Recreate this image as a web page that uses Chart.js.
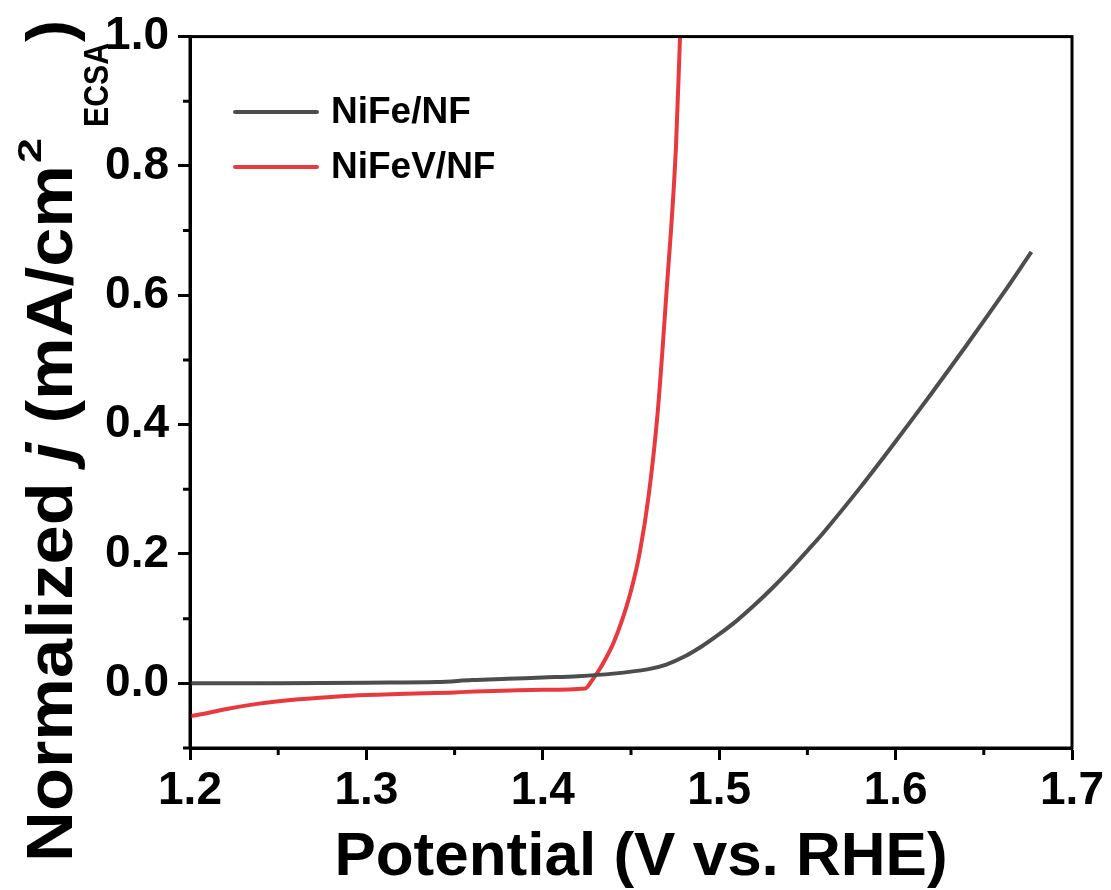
<!DOCTYPE html>
<html>
<head>
<meta charset="utf-8">
<title>Normalized LSV</title>
<script src="https://cdn.jsdelivr.net/npm/chart.js@4.4.1/dist/chart.umd.min.js"></script>
<style>
  html, body { margin: 0; padding: 0; background: #fff; }
  #wrap { width: 1111px; height: 890px; }
</style>
</head>
<body>
<div id="wrap"><canvas id="lsvChart" width="1111" height="890"></canvas></div>
<script>
// LSV curves, potential in V vs. RHE, current normalized by ECSA
const seriesNames = ["NiFe/NF", "NiFeV/NF"];
const seriesColors = ["#4d4d4d", "#e8393e"];

const potentialNiFe = [1.20, 1.25, 1.30, 1.34, 1.36, 1.38, 1.40, 1.42, 1.44, 1.46, 1.47, 1.48, 1.49,
  1.50, 1.51, 1.52, 1.53, 1.54, 1.55, 1.56, 1.58, 1.60, 1.62, 1.64, 1.66, 1.677];
const currentNiFe = [0.000, 0.000, 0.001, 0.002, 0.005, 0.007, 0.009, 0.011, 0.015, 0.022, 0.029, 0.041, 0.057,
  0.076, 0.097, 0.121, 0.147, 0.175, 0.205, 0.236, 0.303, 0.374, 0.447, 0.522, 0.599, 0.667];

const potentialNiFeV = [1.200, 1.210, 1.220, 1.240, 1.260, 1.280, 1.300, 1.350, 1.400, 1.424, 1.428, 1.432,
  1.436, 1.440, 1.445, 1.450, 1.455, 1.460, 1.465, 1.470, 1.4755, 1.4778];
const currentNiFeV = [-0.051, -0.046, -0.040, -0.031, -0.025, -0.021, -0.018, -0.014, -0.010, -0.008, 0.005, 0.021,
  0.040, 0.062, 0.098, 0.143, 0.203, 0.290, 0.415, 0.600, 0.830, 1.000];

const xMajorTicks = [1.2, 1.3, 1.4, 1.5, 1.6, 1.7];
const xMinorTicks = [1.25, 1.35, 1.45, 1.55, 1.65];
const yMajorTicks = [0.0, 0.2, 0.4, 0.6, 0.8, 1.0];
const yMinorTicks = [-0.1, 0.1, 0.3, 0.5, 0.7, 0.9];

const FONT = "'Liberation Sans', Arial, sans-serif";

function toPoints(xs, ys) {
  return xs.map(function (x, i) { return { x: x, y: ys[i] }; });
}

// frame, minor ticks, legend and axis titles
const decorations = {
  id: "decorations",
  afterDraw: function (chart) {
    const ctx = chart.ctx;
    const area = chart.chartArea;
    const xs = chart.scales.x;
    const ys = chart.scales.y;

    ctx.save();
    ctx.strokeStyle = "#000";
    ctx.lineWidth = 3;
    ctx.strokeRect(area.left, area.top, area.right - area.left, area.bottom - area.top);

    // minor ticks
    ctx.beginPath();
    xMinorTicks.forEach(function (v) {
      const px = xs.getPixelForValue(v);
      ctx.moveTo(px, area.bottom);
      ctx.lineTo(px, area.bottom + 7);
    });
    yMinorTicks.forEach(function (v) {
      const py = ys.getPixelForValue(v);
      ctx.moveTo(area.left, py);
      ctx.lineTo(area.left - 7, py);
    });
    ctx.stroke();

    // legend
    ctx.font = "bold 37px " + FONT;
    ctx.textBaseline = "middle";
    ctx.textAlign = "left";
    chart.data.datasets.forEach(function (ds, i) {
      const y = 112 + i * 55;
      ctx.strokeStyle = ds.borderColor;
      ctx.lineWidth = 4;
      ctx.lineCap = "round";
      ctx.beginPath();
      ctx.moveTo(235, y);
      ctx.lineTo(317, y);
      ctx.stroke();
      ctx.fillStyle = "#000";
      ctx.fillText(ds.label, 331, y + 1);
    });

    // x title
    ctx.fillStyle = "#000";
    ctx.textBaseline = "alphabetic";
    ctx.textAlign = "center";
    ctx.font = "bold 62px " + FONT;
    ctx.fillText("Potential (V vs. RHE)", 641, 875);

    // y title: italic j, superscript 2, subscript ECSA
    // each run: start and length along the title, baseline offset
    const runs = [
      { t: ["Normalized ", "j", " (mA/cm"], f: ["bold 64px ", "italic bold 64px ", "bold 64px "], at: 0, len: 697, dy: 0 },
      { t: ["2"], f: ["bold 34px "], at: 699, len: 25, dy: -31 },
      { t: ["ECSA"], f: ["bold 35px "], at: 735, len: 84, dy: 36 },
      { t: [")"], f: ["bold 64px "], at: 820, len: 22, dy: 0 }
    ];
    ctx.translate(72, 862);
    ctx.rotate(-Math.PI / 2);
    ctx.textAlign = "left";
    runs.forEach(function (r) {
      let w = 0;
      r.t.forEach(function (s, i) {
        ctx.font = r.f[i] + FONT;
        w += ctx.measureText(s).width;
      });
      ctx.save();
      ctx.translate(r.at, r.dy);
      ctx.scale(r.len / w, 1);
      let cx = 0;
      r.t.forEach(function (s, i) {
        ctx.font = r.f[i] + FONT;
        ctx.fillText(s, cx, 0);
        cx += ctx.measureText(s).width;
      });
      ctx.restore();
    });
    ctx.restore();
  }
};

const ctxLsv = document.getElementById("lsvChart").getContext("2d");

const lsvChart = new Chart(ctxLsv, {
  type: "line",
  data: {
    datasets: [
      {
        label: seriesNames[0],
        data: toPoints(potentialNiFe, currentNiFe),
        borderColor: seriesColors[0],
        borderWidth: 4,
        pointRadius: 0,
        tension: 0.35
      },
      {
        label: seriesNames[1],
        data: toPoints(potentialNiFeV, currentNiFeV),
        borderColor: seriesColors[1],
        borderWidth: 4,
        pointRadius: 0,
        cubicInterpolationMode: "monotone"
      }
    ]
  },
  options: {
    responsive: false,
    animation: false,
    events: [],
    layout: { padding: { top: 35, right: 39, left: 0, bottom: 0 } },
    plugins: {
      legend: { display: false },
      tooltip: { enabled: false }
    },
    scales: {
      x: {
        type: "linear",
        min: 1.2,
        max: 1.7,
        afterBuildTicks: function (scale) {
          scale.ticks = xMajorTicks.map(function (v) { return { value: v }; });
        },
        afterFit: function (scale) { scale.height = 142; },
        border: { display: true, color: "#000", width: 3 },
        grid: { drawOnChartArea: false, tickLength: 12, tickWidth: 3, tickColor: "#000" },
        ticks: {
          color: "#000",
          padding: 4,
          maxRotation: 0,
          font: { family: FONT, size: 46, weight: "bold" },
          callback: function (v) { return Number(v).toFixed(1); }
        }
      },
      y: {
        type: "linear",
        min: -0.1,
        max: 1.0,
        afterBuildTicks: function (scale) {
          scale.ticks = yMajorTicks.map(function (v) { return { value: v }; });
        },
        afterFit: function (scale) { scale.width = 190; },
        border: { display: true, color: "#000", width: 3 },
        grid: { drawOnChartArea: false, tickLength: 12, tickWidth: 3, tickColor: "#000" },
        ticks: {
          color: "#000",
          padding: 9,
          font: { family: FONT, size: 46, weight: "bold" },
          callback: function (v) { return Number(v).toFixed(1); }
        }
      }
    }
  },
  plugins: [decorations]
});
</script>
</body>
</html>
